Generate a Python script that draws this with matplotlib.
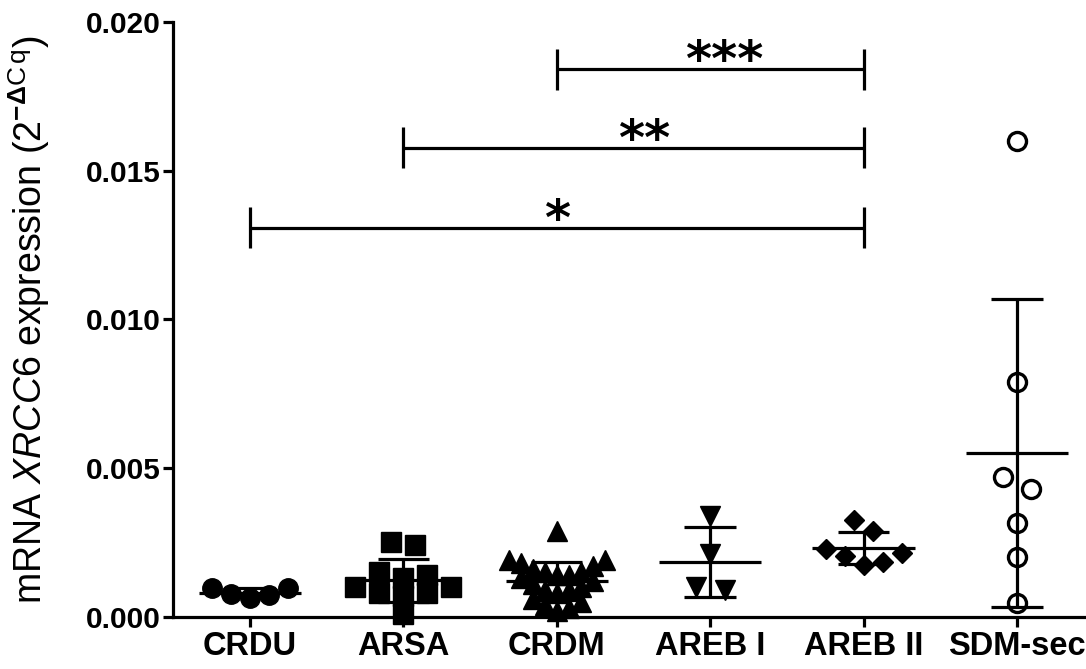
import numpy as np
import matplotlib
matplotlib.use('Agg')
import matplotlib.pyplot as plt

plt.rcParams['font.family'] = ['Liberation Sans', 'DejaVu Sans']
plt.rcParams['mathtext.fontset'] = 'custom'
plt.rcParams['mathtext.rm'] = 'Liberation Sans'
plt.rcParams['mathtext.it'] = 'Liberation Sans:italic'
plt.rcParams['mathtext.bf'] = 'Liberation Sans:bold'

groups = ['CRDU', 'ARSA', 'CRDM', 'AREB I', 'AREB II', 'SDM-sec']

crdu = [0.00096, 0.00076, 0.00063, 0.00074, 0.00096]
arsa = [0.0001,
        0.0007, 0.0008, 0.0008, 0.0010, 0.0010,
        0.0013, 0.0014, 0.0015,
        0.0024, 0.0025]
crdm = [0.0002, 0.0003, 0.0004, 0.0005, 0.0006,
        0.0008, 0.0009, 0.0009, 0.0010, 0.0011, 0.0012, 0.0013,
        0.0014, 0.0014, 0.0015, 0.0015, 0.0016, 0.0017, 0.0018, 0.0019, 0.0019,
        0.0029]
areb1 = [0.0034, 0.0021, 0.0010, 0.0009]
areb2 = [0.00326, 0.00287, 0.00229, 0.00214, 0.00203, 0.00186, 0.00175]
sdm_sec = [0.0160, 0.0079, 0.0047, 0.0043, 0.00315, 0.0020, 0.00048]

all_values = [crdu, arsa, crdm, areb1, areb2, sdm_sec]

# significance brackets: (from group, to group, label)
brackets = [(2, 4, '***'), (1, 4, '**'), (0, 4, '*')]
bracket_heights = [0.01842, 0.01578, 0.01309]
label_shift = [0.09, 0.07, 0.0]

styles = [
    dict(marker='o', ms=14, mfc='black', mec='black'),
    dict(marker='s', ms=14, mfc='black', mec='black'),
    dict(marker='^', ms=15, mfc='black', mec='black'),
    dict(marker='v', ms=15, mfc='black', mec='black'),
    dict(marker='D', ms=10.5, mfc='black', mec='black'),
    dict(marker='o', ms=13, mfc='none', mec='black', mew=2.4),
]
# horizontal spacing (px) between neighbours in a row of points
row_spacing = [19, 24, 12, 29, 19, 28]
row_height = 0.00057


def scatter_offsets(ax, values, spacing):
    """Group values into rows and spread each row centre-out (lowest in the middle)."""
    vals = np.asarray(values, dtype=float)
    unit = ax.transData.transform((1, 0))[0] - ax.transData.transform((0, 0))[0]
    order = np.argsort(vals, kind='stable')
    out = np.zeros(len(vals))
    k = 0
    while k < len(order):
        start = vals[order[k]]
        row = [order[k]]
        k += 1
        while k < len(order) and vals[order[k]] < start + row_height:
            row.append(order[k])
            k += 1
        n = len(row)
        if n % 2:
            slots = [0.0]
            for j in range(1, n // 2 + 1):
                slots += [j, -j]
        else:
            slots = []
            for j in range(n // 2):
                slots += [j + 0.5, -(j + 0.5)]
        for idx, s in zip(row, slots):
            out[idx] = s * spacing / unit
    return out


fig = plt.figure(figsize=(10.86, 6.69), dpi=100)
ax = fig.add_axes([0.1593, 0.078, 0.8407, 0.889])
ax.set_xlim(-0.5, 5.45)
ax.set_ylim(0, 0.020)

lw = 2.3
for i, vals in enumerate(all_values):
    dx = scatter_offsets(ax, vals, row_spacing[i])
    ax.plot(i + dx, vals, ls='none', zorder=3, clip_on=False, **styles[i])
    m = np.mean(vals)
    sd = np.std(vals, ddof=1)
    ax.hlines(m, i - 0.333, i + 0.333, color='black', lw=lw, zorder=4)
    ax.vlines(i, max(m - sd, 0), m + sd, color='black', lw=lw, zorder=4)
    ax.hlines([m + sd, m - sd], i - 0.167, i + 0.167, color='black', lw=lw, zorder=4)

for (a, b, label), h, shift in zip(brackets, bracket_heights, label_shift):
    ax.plot([a, b], [h, h], color='black', lw=lw, solid_capstyle='butt')
    ax.vlines([a, b], h - 0.00069, h + 0.00069, color='black', lw=lw)
    ax.text((a + b) / 2 + shift, h - 0.00025, label, ha='center', va='baseline',
            fontsize=36, fontweight='bold', family='DejaVu Sans')

ax.set_xticks(range(len(groups)))
ax.set_xticklabels(groups, fontsize=23.5, fontweight='bold')
ax.set_yticks([0, 0.005, 0.010, 0.015, 0.020])
ax.set_yticklabels(['0.000', '0.005', '0.010', '0.015', '0.020'],
                   fontsize=21.5, fontweight='bold')
ax.tick_params(axis='both', direction='out', length=7, width=lw)
ax.tick_params(axis='y', pad=2)
ax.tick_params(axis='x', pad=3)
for side in ['top', 'right']:
    ax.spines[side].set_visible(False)
for side in ['left', 'bottom']:
    ax.spines[side].set_linewidth(lw)

ax.set_ylabel(r'mRNA $\mathit{XRCC6}$ expression (2$^{\mathbf{-\Delta}\mathrm{C\,q}}$)',
              fontsize=27, labelpad=24)

fig.savefig('out.png', dpi=100)
